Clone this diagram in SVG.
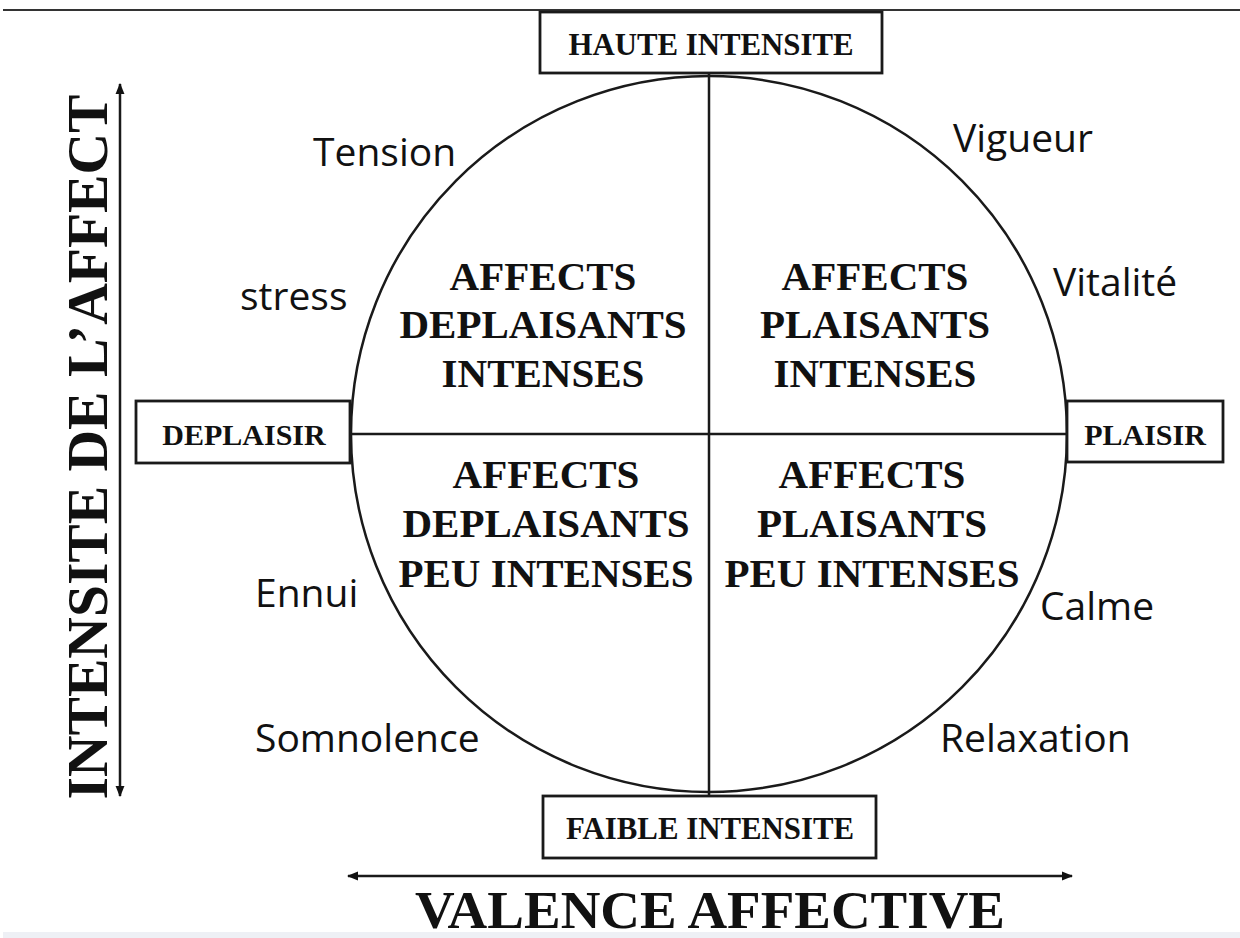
<svg xmlns="http://www.w3.org/2000/svg" width="1240" height="938" viewBox="0 0 1240 938">
<style>
.ln{stroke:#1a1a1a;stroke-width:2.5;fill:none}
.box{stroke:#1a1a1a;stroke-width:2.8;fill:#fff}
.bx{font-family:"Liberation Serif","Times New Roman",serif;font-weight:bold;fill:#111;text-anchor:middle}
.q{font-family:"Liberation Serif","Times New Roman",serif;font-weight:bold;font-size:41px;fill:#111;text-anchor:middle}
.lb{font-family:"Open Sans","Noto Sans",sans-serif;font-size:39px;fill:#111}
</style>
<defs>
<marker id="ah" viewBox="0 0 10 10" refX="9" refY="5" markerWidth="4.5" markerHeight="4.5" orient="auto-start-reverse" markerUnits="strokeWidth">
<path d="M0,1 L10,5 L0,9 z" fill="#111"/>
</marker>
</defs>
<rect width="1240" height="938" fill="#fff"/>
<line x1="3" y1="10" x2="1240" y2="10" stroke="#333" stroke-width="2"/>
<rect x="3" y="932" width="1237" height="6" fill="#eef0f5"/>

<g id="connectors">
<circle class="ln" cx="709" cy="434" r="358"/>
<line class="ln" x1="709" y1="73" x2="709" y2="796"/>
<line class="ln" x1="350" y1="434" x2="1068" y2="434"/>
<line class="ln" x1="120" y1="84" x2="120" y2="796" marker-start="url(#ah)" marker-end="url(#ah)"/>
<line class="ln" x1="348" y1="876" x2="1072" y2="876" marker-start="url(#ah)" marker-end="url(#ah)"/>
</g>

<g id="haute">
<rect class="box" x="540" y="12" width="342" height="61"/>
<text class="bx" x="711" y="55" font-size="32" textLength="285" lengthAdjust="spacingAndGlyphs">HAUTE INTENSITE</text>
</g>
<g id="faible">
<rect class="box" x="543" y="796" width="333" height="62"/>
<text class="bx" x="710" y="839" font-size="32" textLength="288" lengthAdjust="spacingAndGlyphs">FAIBLE INTENSITE</text>
</g>
<g id="deplaisir">
<rect class="box" x="136" y="401" width="214" height="62"/>
<text class="bx" x="244" y="445" font-size="30">DEPLAISIR</text>
</g>
<g id="plaisir">
<rect class="box" x="1067" y="401" width="156" height="61"/>
<text class="bx" x="1145" y="445" font-size="30">PLAISIR</text>
</g>

<g id="q-dpi">
<text class="q" x="543" y="290">AFFECTS</text>
<text class="q" x="543" y="338">DEPLAISANTS</text>
<text class="q" x="543" y="387">INTENSES</text>
</g>
<g id="q-pi">
<text class="q" x="875" y="290">AFFECTS</text>
<text class="q" x="875" y="338">PLAISANTS</text>
<text class="q" x="875" y="387">INTENSES</text>
</g>
<g id="q-dpe">
<text class="q" x="546" y="488">AFFECTS</text>
<text class="q" x="546" y="537">DEPLAISANTS</text>
<text class="q" x="546" y="587">PEU INTENSES</text>
</g>
<g id="q-ppe">
<text class="q" x="872" y="488">AFFECTS</text>
<text class="q" x="872" y="537">PLAISANTS</text>
<text class="q" x="872" y="587">PEU INTENSES</text>
</g>

<g id="labels">
<text class="lb" x="313" y="166">Tension</text>
<text class="lb" x="953" y="152">Vigueur</text>
<text class="lb" x="240" y="310">stress</text>
<text class="lb" x="1053" y="296">Vitalité</text>
<text class="lb" x="255" y="607">Ennui</text>
<text class="lb" x="1040" y="620">Calme</text>
<text class="lb" x="255" y="752">Somnolence</text>
<text class="lb" x="940" y="752">Relaxation</text>
</g>

<g id="axis-y">
<text class="bx" transform="translate(107,447) rotate(-90)" font-size="57" textLength="705" lengthAdjust="spacingAndGlyphs">INTENSITE DE L’AFFECT</text>
</g>
<g id="axis-x">
<text class="bx" x="710" y="928" font-size="52" textLength="590" lengthAdjust="spacingAndGlyphs">VALENCE AFFECTIVE</text>
</g>
</svg>
